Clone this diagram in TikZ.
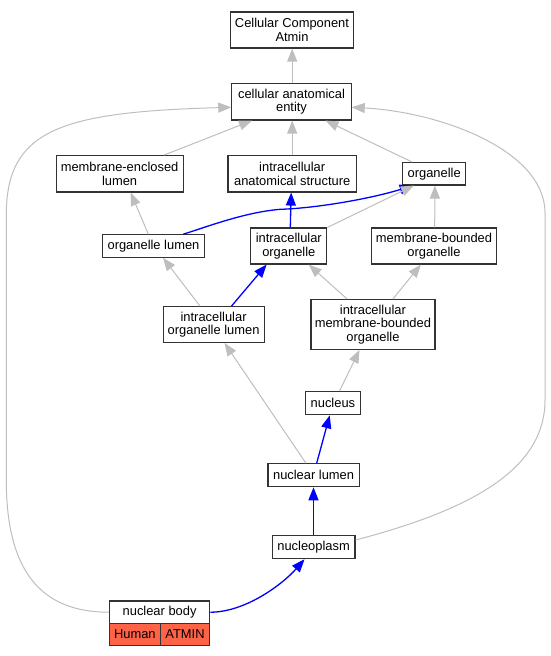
\documentclass[tikz,border=0pt]{standalone}
\usepackage{fontspec}
\setmainfont{Liberation Sans}
\usetikzlibrary{arrows.meta}
\definecolor{edgegray}{RGB}{190,190,190}
\definecolor{tomatofill}{RGB}{255,99,71}
\begin{document}
\begin{tikzpicture}[x=1pt,y=-1pt,
  term/.style={draw=black!80, line width=1.2pt, fill=white, inner sep=0pt, align=center,
    font=\fontsize{12.9}{13.5}\selectfont, text=black},
  isa/.style={draw=edgegray, line width=1pt, -{Triangle[length=13pt,width=10pt]}},
  bisa/.style={draw=blue, line width=1.3pt, -{Triangle[length=13pt,width=10pt]}}]
\useasboundingbox (0,0) rectangle (550,656);
% nodes
\node[term, minimum width=123pt, minimum height=36pt] (cca) at (292,30) {Cellular Component\\Atmin};
\node[term, minimum width=119.3pt, minimum height=36.3pt] (cae) at (291.5,101.8) {cellular anatomical\\entity};
\node[term, minimum width=127pt, minimum height=36.3pt] (mel) at (119.6,173.8) {membrane-enclosed\\lumen};
\node[term, minimum width=128.4pt, minimum height=36.3pt] (ias) at (292.2,173.8) {intracellular\\anatomical structure};
\node[term, minimum width=63pt, minimum height=22.3pt] (org) at (434.2,173.8) {organelle};
\node[term, minimum width=101.3pt, minimum height=22.3pt] (ol) at (153.5,246) {organelle lumen};
\node[term, minimum width=76pt, minimum height=36pt] (io) at (288.8,246) {intracellular\\organelle};
\node[term, minimum width=124.5pt, minimum height=36pt] (mbo) at (434,246) {membrane-bounded\\organelle};
\node[term, minimum width=101pt, minimum height=35.6pt] (iol) at (213.6,324.5) {intracellular\\organelle lumen};
\node[term, minimum width=124pt, minimum height=49.6pt] (imbo) at (372.9,324.5) {intracellular\\membrane-bounded\\organelle};
\node[term, minimum width=54.7pt, minimum height=23pt] (nuc) at (332.9,403.2) {nucleus};
\node[term, minimum width=91.2pt, minimum height=23pt] (nl) at (313.6,475.2) {nuclear lumen};
\node[term, minimum width=82.8pt, minimum height=23pt] (np) at (313.6,547.2) {nucleoplasm};
\node[term, minimum width=100.4pt, minimum height=22.3pt] (nb) at (159.6,612.2) {nuclear body};
\node[term, fill=tomatofill, minimum width=50.9pt, minimum height=22pt] (hum) at (134.85,634.3) {Human};
\node[term, fill=tomatofill, minimum width=49.5pt, minimum height=22pt] (atm) at (185.05,634.3) {ATMIN};
% edges
\draw[isa] ([xshift=0.7pt]cae.north) -- ([xshift=0.2pt]cca.south);
\draw[isa] ([xshift=44.6pt]mel.north) -- ([xshift=-39.5pt]cae.south);
\draw[isa] (ias.north) -- ([xshift=0.7pt]cae.south);
\draw[isa] ([xshift=-22pt]org.north) -- ([xshift=34pt]cae.south);
\draw[bisa] ([xshift=29.6pt]ol.north) .. controls (205,227.5) and (245,212) .. (280.6,209.3)
   .. controls (320,208) and (375,197.5) .. ([xshift=-21.5pt]org.south);
\draw[isa] (io.north east) -- ([xshift=-20.3pt]org.south);
\draw[isa] ([xshift=0.7pt]mbo.north) -- ([xshift=0.7pt]org.south);
\draw[isa] ([xshift=-5.1pt]ol.north) -- ([xshift=11pt]mel.south);
\draw[isa] ([xshift=-13.6pt]iol.north) -- ([xshift=9.5pt]ol.south);
\draw[bisa] ([xshift=17.9pt]iol.north) -- ([xshift=-22.2pt]io.south);
\draw[bisa] ([xshift=1.5pt]io.north) -- ([xshift=-1pt]ias.south);
\draw[isa] ([xshift=-25.7pt]imbo.north) -- ([xshift=19.9pt]io.south);
\draw[isa] ([xshift=19.9pt]imbo.north) -- ([xshift=-13.1pt]mbo.south);
\draw[isa] ([xshift=6.6pt]nuc.north) -- ([xshift=-13.4pt]imbo.south);
\draw[isa] ([xshift=-7.7pt]nl.north) -- ([xshift=10.9pt]iol.south);
\draw[bisa] ([xshift=3.1pt]nl.north) -- ([xshift=-3.2pt]nuc.south);
\draw[bisa] ([xshift=-0.1pt]np.north) -- ([xshift=-0.1pt]nl.south);
\draw[bisa] (nb.east) .. controls +(35,0) and +(-22,25) .. ([xshift=-9.1pt]np.south);
\draw[isa] ([yshift=7.2pt]np.east) .. controls (470,510) and (545,470) .. (545,400)
   -- (545,213) .. controls (545,150) and (440,112) .. ([yshift=-5.5pt]cae.east);
\draw[isa] (nb.west) .. controls (40,612.2) and (6.3,570) .. (6.3,480)
   -- (6.3,215) .. controls (6.3,130) and (60,112) .. ([yshift=-5.5pt]cae.west);
\end{tikzpicture}
\end{document}
